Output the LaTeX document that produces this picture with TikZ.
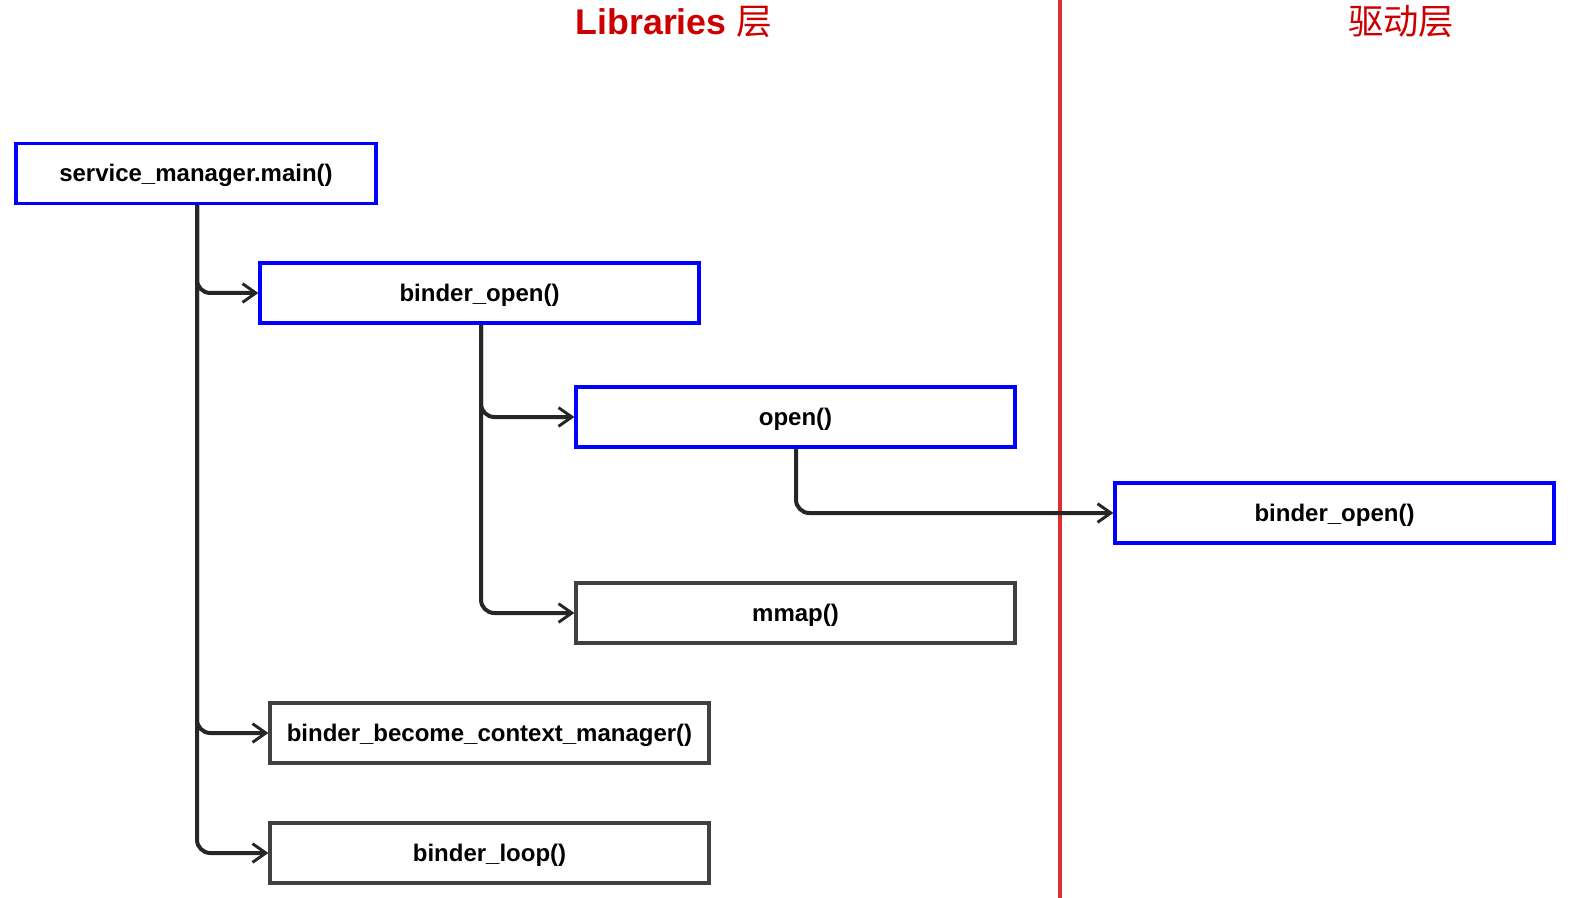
\documentclass[tikz,border=0pt]{standalone}
\usepackage{fontspec}
\setmainfont{Liberation Sans}
\newfontfamily\cjk{Noto Sans CJK SC}
\usetikzlibrary{arrows.meta}
\definecolor{boxblue}{RGB}{0,0,255}
\definecolor{boxgray}{RGB}{64,64,64}
\definecolor{titlered}{RGB}{204,0,0}
\definecolor{linered}{RGB}{222,48,48}
\begin{document}
\begin{tikzpicture}[x=0.75pt,y=-0.75pt,
  fnbox/.style={draw=boxblue,line width=2.4pt,minimum height=60*0.75pt,inner sep=0pt,
    text height=15.5pt,text depth=3pt,
    font=\fontsize{18}{21}\selectfont\bfseries},
  graybox/.style={fnbox,draw=boxgray},
  conn/.style={draw=black!85,line width=3pt,rounded corners=10pt,-{Straight Barb[length=10pt,width=14pt,line width=2.2pt]}},
  title/.style={text=titlered,font=\fontsize{26.8}{30}\selectfont\bfseries}]
\useasboundingbox (0,0) rectangle (1570,898);
\draw[linered,line width=2.6pt] (1060,0) -- (1060,898);
\node[title] (t1) at (674,22) {Libraries {\cjk\mdseries 层}};
\node[title,font=\fontsize{26.5}{30}\selectfont\cjk\mdseries] (t2) at (1401,22) {驱动层};
\node[fnbox,minimum width=360*0.75pt] (main) at (196,173.5) {service\_manager.main()};
\node[fnbox,minimum width=439*0.75pt] (bopen) at (479.5,293) {binder\_open()};
\node[fnbox,minimum width=439*0.75pt] (open) at (795.5,417) {open()};
\node[fnbox,minimum width=439*0.75pt] (dopen) at (1334.5,513) {binder\_open()};
\node[graybox,minimum width=439*0.75pt] (mmap) at (795.5,613) {mmap()};
\node[graybox,minimum width=439*0.75pt] (become) at (489.5,733) {binder\_become\_context\_manager()};
\node[graybox,minimum width=439*0.75pt] (loop) at (489.5,853) {binder\_loop()};
\draw[conn] (main.south -| 197,0) |- (bopen.west);
\draw[conn] (main.south -| 197,0) |- (become.west);
\draw[conn] (main.south -| 197,0) |- (loop.west);
\draw[conn] (bopen.south -| 481,0) |- (open.west);
\draw[conn] (bopen.south -| 481,0) |- (mmap.west);
\draw[conn] (open.south -| 796,0) |- (dopen.west);
\end{tikzpicture}
\end{document}
